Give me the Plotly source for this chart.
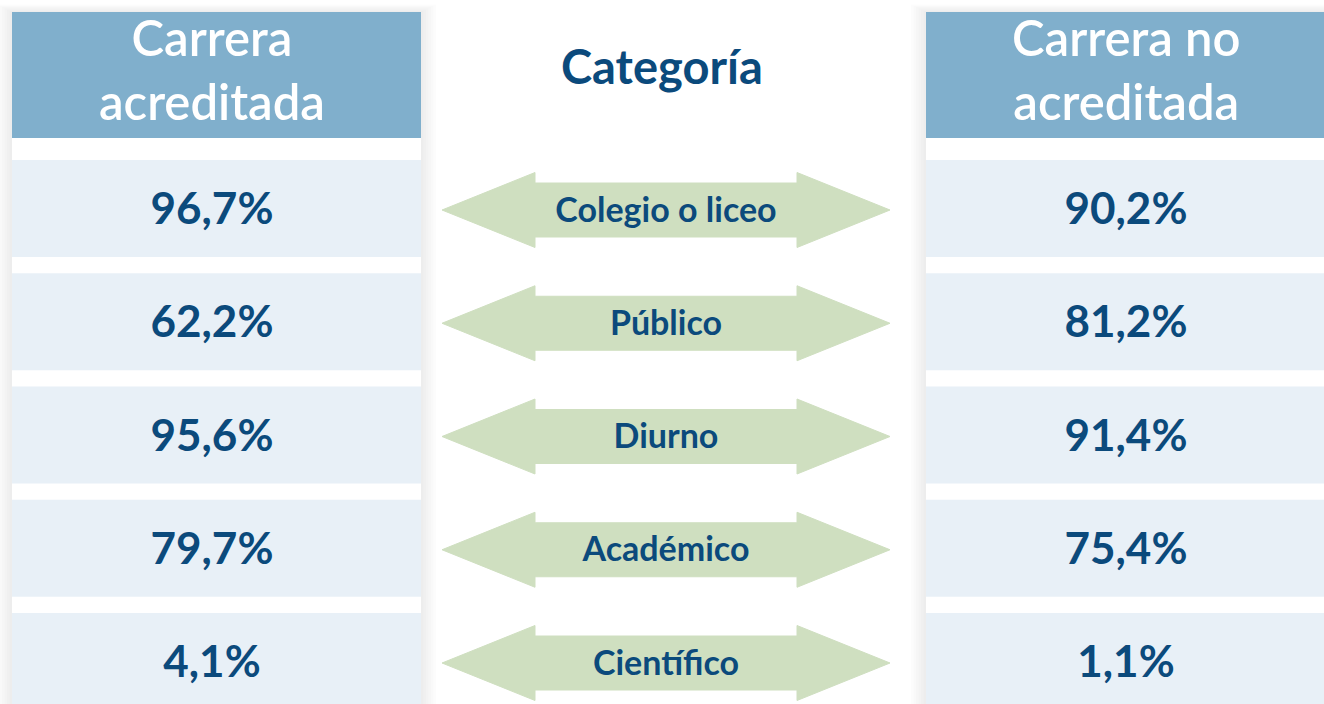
import plotly.graph_objects as go

# ---- data ----
categories = ["Colegio o liceo", "Público", "Diurno", "Académico", "Científico"]
acreditada = [96.7, 62.2, 95.6, 79.7, 4.1]
no_acreditada = [90.2, 81.2, 91.4, 75.4, 1.1]
header_left = "Carrera<br>acreditada"
header_mid = "Categoría"
header_right = "Carrera no<br>acreditada"

def fmt(v):
    return f"{v:.1f}".replace(".", ",") + "%"

# ---- layout constants ----
W, H = 1324, 704
LX0, LX1 = 12, 421
RX0, RX1 = 926, 1330
HEAD_Y0, HEAD_Y1 = 12, 138
ROW_Y0, ROW_PITCH, ROW_H = 160, 113.25, 97
ARR_X0, ARR_X1 = 442, 890
HEAD_LEN = 93
SHAFT_HALF, HEAD_HALF = 27, 37.5

HEADER_COLOR = "#80afcc"
ROW_COLOR = "#e8f0f7"
TEXT_COLOR = "#0b4a7c"
ARROW_COLOR = "#cfdfc0"
FONT = "Lato"

shapes = []

# soft shadow around the two columns
for (x0, x1) in [(LX0, LX1), (RX0, RX1)]:
    for k in range(1, 7):
        d = k * 2.5
        shapes.append(dict(type="rect", xref="x", yref="y", x0=x0 - d, x1=x1 + d,
                           y0=HEAD_Y0 - d / 2, y1=H + 20, line_width=0,
                           fillcolor="rgba(0,0,0,0.012)", layer="below"))
    shapes.append(dict(type="rect", xref="x", yref="y", x0=x0, x1=x1,
                       y0=HEAD_Y0, y1=H + 20, line_width=0,
                       fillcolor="white", layer="below"))
    shapes.append(dict(type="rect", xref="x", yref="y", x0=x0, x1=x1,
                       y0=HEAD_Y0, y1=HEAD_Y1, line_width=0,
                       fillcolor=HEADER_COLOR, layer="below"))

row_centers = []
for i, cat in enumerate(categories):
    y0 = ROW_Y0 + i * ROW_PITCH
    y1 = y0 + ROW_H
    yc = (y0 + y1) / 2 + 1.5
    row_centers.append(yc)
    for (x0, x1) in [(LX0, LX1), (RX0, RX1)]:
        shapes.append(dict(type="rect", xref="x", yref="y", x0=x0, x1=x1,
                           y0=y0, y1=y1, line_width=0, fillcolor=ROW_COLOR,
                           layer="below"))
    # double arrow
    hx0 = ARR_X0 + HEAD_LEN
    hx1 = ARR_X1 - HEAD_LEN
    pts = [
        (ARR_X0, yc),
        (hx0, yc - HEAD_HALF),
        (hx0, yc - SHAFT_HALF),
        (hx1, yc - SHAFT_HALF),
        (hx1, yc - HEAD_HALF),
        (ARR_X1, yc),
        (hx1, yc + HEAD_HALF),
        (hx1, yc + SHAFT_HALF),
        (hx0, yc + SHAFT_HALF),
        (hx0, yc + HEAD_HALF),
    ]
    path = "M " + " L ".join(f"{x},{y}" for x, y in pts) + " Z"
    shapes.append(dict(type="path", xref="x", yref="y", path=path,
                       fillcolor=ARROW_COLOR, line=dict(color=ARROW_COLOR, width=1),
                       layer="below"))

fig = go.Figure()

left_cx = 212
right_cx = 1126
mid_cx = (ARR_X0 + ARR_X1) / 2
text_y = [y + 3 for y in row_centers]

fig.add_trace(go.Scatter(
    x=[left_cx] * len(acreditada), y=text_y, mode="text",
    text=[fmt(v) for v in acreditada],
    textfont=dict(family=FONT, size=44, color=TEXT_COLOR, weight="bold"),
    hoverinfo="skip", showlegend=False))
fig.add_trace(go.Scatter(
    x=[right_cx] * len(no_acreditada), y=text_y, mode="text",
    text=[fmt(v) for v in no_acreditada],
    textfont=dict(family=FONT, size=44, color=TEXT_COLOR, weight="bold"),
    hoverinfo="skip", showlegend=False))
fig.add_trace(go.Scatter(
    x=[mid_cx] * len(categories), y=text_y, mode="text",
    text=categories,
    textfont=dict(family=FONT, size=34, color=TEXT_COLOR, weight="bold"),
    hoverinfo="skip", showlegend=False))

annotations = [
    dict(x=212, y=69, xref="x", yref="y",
         text=header_left, showarrow=False,
         font=dict(family=FONT, size=49, color="white", weight=600)),
    dict(x=1126, y=69, xref="x", yref="y",
         text=header_right, showarrow=False,
         font=dict(family=FONT, size=49, color="white", weight=600)),
    dict(x=662, y=66, xref="x", yref="y", text=header_mid, showarrow=False,
         font=dict(family=FONT, size=47, color=TEXT_COLOR, weight="bold")),
]

fig.update_layout(
    width=W, height=H,
    margin=dict(l=0, r=0, t=0, b=0),
    paper_bgcolor="white", plot_bgcolor="white",
    xaxis=dict(range=[0, W], visible=False, fixedrange=True),
    yaxis=dict(range=[H, 0], visible=False, fixedrange=True),
    shapes=shapes, annotations=annotations,
)

fig.write_html(
    "out.html",
    config={"displayModeBar": False},
    post_script="document.body.style.margin='0';document.body.style.overflow='hidden';",
)
